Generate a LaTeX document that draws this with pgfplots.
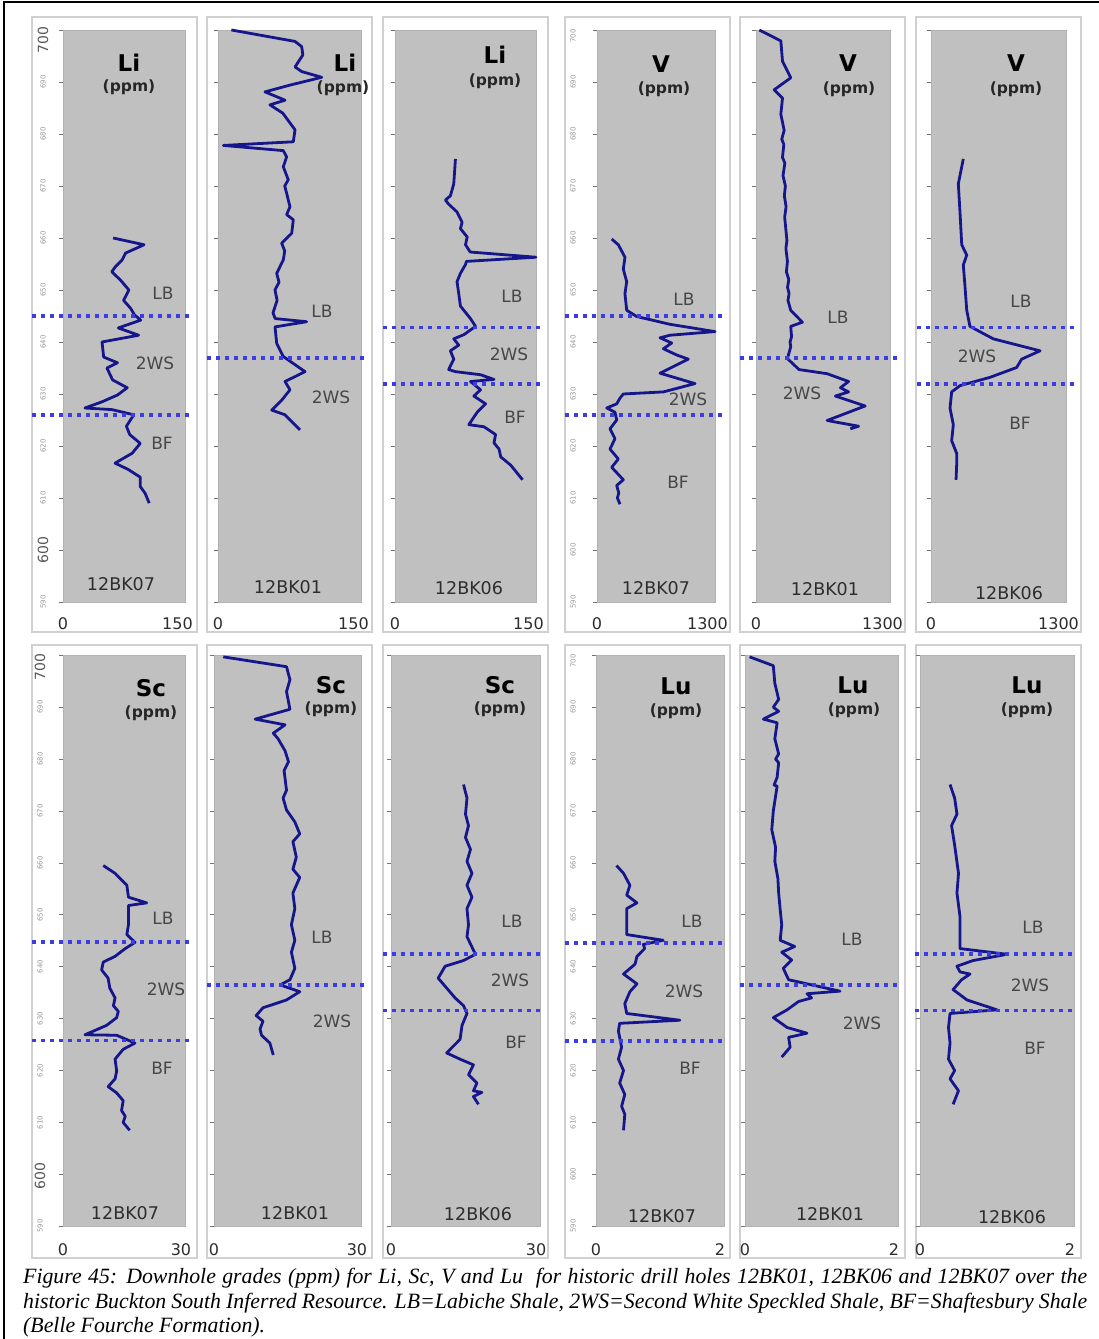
\documentclass[border=0pt]{standalone}
\usepackage{fontspec}
\setmainfont{Liberation Serif}
\setsansfont{DejaVu Sans}
\usepackage{pgfplots}
\pgfplotsset{compat=1.18}
\definecolor{bgray}{RGB}{192,192,192}
\definecolor{framec}{RGB}{208,208,208}
\definecolor{lineb}{RGB}{22,22,140}
\definecolor{dotb}{RGB}{60,60,228}
\definecolor{txt}{RGB}{45,45,45}
\newcommand{\fs}[1]{\fontsize{#1}{#1}\selectfont}
\pgfplotsset{panel/.style={
  anchor=south west, scale only axis, clip=false,
  axis background/.style={fill=bgray},
  axis line style={draw=black!30, line width=0.6pt},
  ymin=590, ymax=700, xmin=0,
  ytick={590,600,...,700}, yticklabels={},
  tick pos=left, tick align=outside, major tick length=4pt,
  ytick style={draw=black!55, line width=0.8pt},
  xtick style={draw=none},
  xticklabel style={font=\sffamily\fs{16}, text=txt, anchor=north, inner sep=0pt, yshift=-11pt},
}}
\tikzset{
 dl/.style={lineb, line width=2.8pt, line join=round},
 dotl/.style={dotb, line width=3.6pt, dash pattern=on 3.6pt off 5.4pt},
 ttl/.style={font=\sffamily\bfseries\fs{23}, text=black},
 ppm/.style={font=\sffamily\bfseries\fs{15.5}, text=black!85},
 hole/.style={font=\sffamily\fs{17.5}, text=txt},
 fm/.style={font=\sffamily\fs{17}, text=black!72},
 tiny/.style={font=\sffamily\fs{7}, text=black!40, rotate=90},
 bigl/.style={font=\sffamily\fs{14}, text=black!65, rotate=90}}
\begin{document}
\begin{tikzpicture}[x=1pt,y=1pt]
\useasboundingbox (0,0) rectangle (1099,1339);
% outer border
\draw[line width=1.6pt] (4,0) -- (4,1337) -- (1099,1337);
% panel frames
\foreach \xa/\xb in {32/197,207/372,383/548,565/730,740/905,916/1081}{
  \draw[framec, line width=1.5pt, fill=white] (\xa,{1339-17}) rectangle (\xb,{1339-632});
  \draw[framec, line width=1.5pt, fill=white] (\xa,{1339-645}) rectangle (\xb,{1339-1258});
}
% ---------------- P1 Li 12BK07
\begin{axis}[panel, at={(63pt,737pt)}, width=122pt, height=572pt, xmax=150,
  xtick={0,150}, xticklabels={0,\makebox[0pt]{\kern-15pt 150}}]
\addplot[dl] coordinates {(61.6,660) (99.6,658.7) (76.9,657.1) (72.8,655.8) (64.5,654.5) (60,653.5) (70.7,651.9) (81,650) (74.5,648) (83,646.5) (88,645.2) (95.5,644.2) (68,642.7) (93,641.3) (48,640) (50,637.1) (67,636) (54,635) (61,632.7) (79,631.2) (67,629.8) (48,628.5) (27,627.3) (60,627) (87,626) (78,623.8) (82,622.2) (95,620.5) (85,618.6) (64,616.7) (80,615.5) (95,614) (95,612.2) (101,610.9) (106,609)};
\draw[dotl] ([xshift=-31pt]axis cs:0,645) -- ([xshift=8pt]axis cs:150,645);
\draw[dotl] ([xshift=-31pt]axis cs:0,626) -- ([xshift=8pt]axis cs:150,626);
\end{axis}
% ---------------- P2 Li 12BK01
\begin{axis}[panel, at={(218pt,737pt)}, width=143pt, height=572pt, xmax=150,
  xtick={0,150}, xticklabels={0,\makebox[0pt]{\kern-15pt 150}}]
\addplot[dl] coordinates {(14,700) (80.8,697.8) (87.8,696.8) (89,695.2) (80.8,692.9) (87.8,692) (108.8,690.9) (75.5,689.4) (49.3,688.1) (70.3,686.5) (54.5,685.6) (68,684) (80.8,680.8) (79,678.5) (5.6,677.8) (68.5,676.8) (72,675.6) (68.5,673.7) (73.7,671.2) (70,670) (72,668.6) (75.5,666) (72,664.5) (79,663.5) (77.3,660.9) (66.8,659) (70,657.5) (68.5,655.8) (61.6,653.2) (64,651.5) (59.8,650) (62,648) (57.7,645.6) (60,644.5) (93,643.9) (59.8,642.9) (61.6,639.7) (68.5,637.2) (91.3,634.3) (70.3,632.4) (75.5,630.8) (66.8,628.8) (56.3,626.9) (70.3,626) (86,623.1)};
\draw[dotl] ([xshift=-11pt]axis cs:0,636.9) -- ([xshift=7pt]axis cs:150,636.9);
\end{axis}
% ---------------- P3 Li 12BK06
\begin{axis}[panel, at={(395pt,737pt)}, width=141pt, height=572pt, xmax=150,
  xtick={0,150}, xticklabels={0,\makebox[0pt]{\kern-15pt 150}}]
\addplot[dl] coordinates {(64.3,675.2) (62.5,670.4) (58.9,668.1) (53.6,667.3) (57.1,666.5) (66,665) (71.4,663) (69.6,661.8) (76.8,660.2) (75,658.7) (80,657.3) (150,656.3) (76,655.5) (75,654.9) (69.6,653.2) (66,651.6) (67.8,649.3) (69.6,646.9) (80.3,644.5) (85.7,643) (73.2,641.4) (62.5,640.6) (67.8,639.4) (58.9,638.3) (62.5,636.7) (57.1,634.7) (64.3,634.3) (91,633.7) (105.3,632.8) (80.3,632.4) (91,630.8) (83.9,629.6) (96.4,628.1) (87.5,626.5) (78.5,624.1) (94.6,623.7) (107,622.2) (105.3,620.6) (110.7,619.4) (112.5,617.9) (123.2,616.3) (135.7,613.5)};
\draw[dotl] ([xshift=-12pt]axis cs:0,642.8) -- ([xshift=7pt]axis cs:150,642.8);
\draw[dotl] ([xshift=-12pt]axis cs:0,631.9) -- ([xshift=7pt]axis cs:150,631.9);
\end{axis}
% ---------------- P4 V 12BK07
\begin{axis}[panel, at={(597pt,737pt)}, width=118pt, height=572pt, xmax=1300,
  xtick={0,1300}, xticklabels={0,\makebox[0pt]{\kern-15pt 1300}}]
\addplot[dl] coordinates {(162,659.8) (235,658.7) (308,656.3) (290,654) (327,651.6) (308,649.3) (327,646.1) (437,644.9) (804,643.4) (1300,642) (804,641.3) (694,640.8) (823,639.8) (731,638.7) (878,637.5) (1006,636.7) (694,634) (1080,632) (731,630.4) (290,630) (253,629.2) (217,628.1) (107,627.3) (198,626.5) (217,625) (143,623.3) (198,621.4) (143,619.4) (235,617.5) (162,615.9) (290,613.5) (217,612.4) (240,611) (225,610) (253,608.8)};
\draw[dotl] ([xshift=-32pt]axis cs:0,645) -- ([xshift=10pt]axis cs:1300,645);
\draw[dotl] ([xshift=-32pt]axis cs:0,626) -- ([xshift=10pt]axis cs:1300,626);
\end{axis}
% ---------------- P5 V 12BK01
\begin{axis}[panel, at={(756pt,737pt)}, width=134pt, height=572pt, xmax=1300,
  xtick={0,1300}, xticklabels={0,\makebox[0pt]{\kern-15pt 1300}}]
\addplot[dl] coordinates {(32,700) (241,697.9) (257,694) (337,690.8) (176,688.5) (257,686.9) (241,683.8) (273,680.7) (250,679) (270,678) (257,675.5) (280,674.4) (262,672) (285,670) (275,668.1) (292,666) (278,664) (289,661.8) (300,659.5) (290,658) (305,655.5) (295,653.5) (318,652) (306,650.5) (321,649.3) (310,648) (337,646.1) (450,643.8) (337,643) (345,641) (330,640) (337,639.1) (305,636.8) (417,634.7) (690,633.9) (898,632.4) (819,631.2) (898,630.4) (770,629.6) (1059,627.7) (690,624.9) (995,623.8) (915,623.3)};
\draw[dotl] ([xshift=-16pt]axis cs:0,636.9) -- ([xshift=12pt]axis cs:1300,636.9);
\end{axis}
% ---------------- P6 V 12BK06
\begin{axis}[panel, at={(931pt,737pt)}, width=135pt, height=572pt, xmax=1300,
  xtick={0,1300}, xticklabels={0,\makebox[0pt]{\kern-15pt 1300}}]
\addplot[dl] coordinates {(311,675.2) (263,670.4) (279,665) (296,658.7) (344,656.7) (311,654.8) (327,650.8) (344,646.1) (375,643) (600,640.6) (1050,638.3) (873,636.7) (825,635.1) (568,633.2) (279,631.6) (199,630.4) (183,627.3) (215,624.1) (199,621) (247,618.6) (247,616.3) (241,613.5)};
\draw[dotl] ([xshift=-14pt]axis cs:0,642.8) -- ([xshift=11pt]axis cs:1300,642.8);
\draw[dotl] ([xshift=-14pt]axis cs:0,631.9) -- ([xshift=11pt]axis cs:1300,631.9);
\end{axis}
% ================= bottom row
\pgfplotsset{xticklabel style={yshift=-2pt}}
% ---------------- P7 Sc 12BK07
\begin{axis}[panel, at={(63pt,112.7pt)}, width=122pt, height=571pt, xmax=30,
  xtick={0,30}, xticklabels={0,\makebox[0pt]{\kern-8pt 30}}]
\addplot[dl] coordinates {(9.9,659.5) (12.8,658) (15.7,655.7) (16.1,653.4) (20.6,652.3) (16.1,651.8) (16.1,648.1) (15.7,646.2) (17.7,644.7) (15.3,643.5) (12.8,642) (9.9,640.9) (9.5,639.4) (11.1,637.8) (11.5,635.9) (12.8,634) (12.4,632.5) (13.6,631.4) (13.2,630.2) (10.7,628.7) (5.4,626.9) (13.2,626.8) (17.7,625.3) (14.8,624.1) (12.8,622.2) (13.2,619.9) (12.8,618.4) (11.1,616.9) (13.2,615.7) (14.8,614.2) (14.4,612.3) (15.3,611.2) (14.8,610) (16.4,608.5)};
\draw[dotl] ([xshift=-31pt]axis cs:0,644.8) -- ([xshift=8pt]axis cs:30,644.8);
\draw[dotl] ([xshift=-31pt]axis cs:0,625.8) -- ([xshift=8pt]axis cs:30,625.8);
\end{axis}
% ---------------- P8 Sc 12BK01
\begin{axis}[panel, at={(214pt,112.7pt)}, width=147pt, height=571pt, xmax=30,
  xtick={0,30}, xticklabels={0,\makebox[0pt]{\kern-8pt 30}}]
\addplot[dl] coordinates {(1.9,699.7) (14.8,697.8) (15.5,695.3) (14.8,693) (15.5,689.6) (8.4,687.7) (14.5,686.6) (12.1,685) (13.1,683.9) (14.5,681.6) (15.2,679.5) (14.3,677.8) (14.8,674) (14.1,672.5) (14.8,670.2) (16.5,667.9) (17.5,665.6) (16.1,664.1) (16.8,661.1) (16.1,658.8) (17.5,657.2) (16.1,654.2) (16.5,651.2) (15.8,648.1) (16.5,645.1) (15.8,642.8) (16.5,639.7) (15.5,637.5) (13.5,636.5) (17.5,635.2) (14.8,633.6) (10,632.1) (8.6,630.6) (10,629.5) (9.4,628) (9.7,626.8) (11.4,625.3) (12.1,623)};
\draw[dotl] ([xshift=-7pt]axis cs:0,636.5) -- ([xshift=7pt]axis cs:30,636.5);
\end{axis}
% ---------------- P9 Sc 12BK06
\begin{axis}[panel, at={(391pt,112.7pt)}, width=149pt, height=571pt, xmax=30,
  xtick={0,30}, xticklabels={0,\makebox[0pt]{\kern-8pt 30}}]
\addplot[dl] coordinates {(14.6,675.1) (15.3,672.5) (15,669.4) (15.6,667.2) (15,664.9) (16,662.6) (15.3,660.3) (16.3,658) (15.3,655.7) (16.3,653.4) (15.3,651.2) (15.6,648.1) (15.3,645.8) (17,642.4) (14.6,641.2) (10.9,640.1) (9.5,637.8) (11.2,635.9) (12.9,634) (14.6,632.5) (15.3,631) (14.3,628.7) (13.9,626) (11.2,623.4) (13.9,622.2) (16.6,621.1) (15.6,619.2) (17.3,617.6) (16.6,616.1) (18.3,615.8) (16.6,615) (17.6,613.5)};
\draw[dotl] ([xshift=-8pt]axis cs:0,642.5) -- ([xshift=3pt]axis cs:30,642.5);
\draw[dotl] ([xshift=-8pt]axis cs:0,631.6) -- ([xshift=3pt]axis cs:30,631.6);
\end{axis}
% ---------------- P10 Lu 12BK07
\begin{axis}[panel, at={(596pt,112.7pt)}, width=128pt, height=571pt, xmax=2,
  xtick={0,2}, xticklabels={0,\makebox[0pt]{\kern-8pt 2}}]
\addplot[dl] coordinates {(0.32,659.5) (0.43,658) (0.53,655.7) (0.48,653.8) (0.64,652.3) (0.48,651.2) (0.48,648.1) (0.48,646.2) (1.05,645.1) (0.74,644.3) (0.76,643.5) (0.64,642) (0.61,640.5) (0.43,638.6) (0.64,636.7) (0.53,635.2) (0.45,632.9) (0.48,631) (1.31,629.7) (0.37,629.1) (0.35,627.6) (0.4,624.5) (0.35,622.2) (0.43,620) (0.37,617.6) (0.45,615.4) (0.4,613.1) (0.45,611.6) (0.43,608.5)};
\draw[dotl] ([xshift=-31pt]axis cs:0,644.6) -- ([xshift=1pt]axis cs:2,644.6);
\draw[dotl] ([xshift=-31pt]axis cs:0,625.7) -- ([xshift=1pt]axis cs:2,625.7);
\end{axis}
% ---------------- P11 Lu 12BK01
\begin{axis}[panel, at={(745pt,112.7pt)}, width=153pt, height=571pt, xmax=2,
  xtick={0,2}, xticklabels={0,\makebox[0pt]{\kern-8pt 2}}]
\addplot[dl] coordinates {(0.06,699.7) (0.37,698) (0.39,694.6) (0.44,691.5) (0.37,690) (0.44,689.2) (0.24,687.7) (0.42,687) (0.39,683.9) (0.44,681) (0.4,680) (0.44,679.3) (0.42,676.5) (0.38,675) (0.42,674.8) (0.37,670) (0.35,666.4) (0.4,663) (0.39,660.3) (0.43,657) (0.44,654.2) (0.46,651) (0.48,648.1) (0.46,645.1) (0.65,643.9) (0.48,642.8) (0.61,641.3) (0.5,639.7) (0.57,637.5) (1.24,635.3) (0.81,634.8) (0.87,634) (0.7,633.3) (0.55,631.7) (0.37,630.2) (0.55,628.3) (0.81,627.2) (0.57,626.4) (0.59,624.5) (0.48,622.6)};
\draw[dotl] ([xshift=-5pt]axis cs:0,636.5) -- ([xshift=2pt]axis cs:2,636.5);
\end{axis}
% ---------------- P12 Lu 12BK06
\begin{axis}[panel, at={(920pt,112.7pt)}, width=154pt, height=571pt, xmax=2,
  xtick={0,2}, xticklabels={0,\makebox[0pt]{\kern-8pt 2}}]
\addplot[dl] coordinates {(0.39,675.1) (0.45,672.5) (0.48,669.4) (0.41,667.2) (0.45,663.4) (0.5,658) (0.48,654.2) (0.52,649.6) (0.52,645.1) (0.52,643.5) (1.13,642.4) (0.69,641.2) (0.48,640.1) (0.52,639) (0.65,638.6) (0.54,637.5) (0.43,635.6) (0.61,633.6) (1,631.7) (0.39,631) (0.37,628.3) (0.39,625.3) (0.37,622.2) (0.45,620) (0.39,618.4) (0.5,616.1) (0.43,613.5)};
\draw[dotl] ([xshift=-5pt]axis cs:0,642.5) -- ([xshift=1pt]axis cs:2,642.5);
\draw[dotl] ([xshift=-5pt]axis cs:0,631.6) -- ([xshift=1pt]axis cs:2,631.6);
\end{axis}
% ---------------- y tick labels
\foreach \d in {590,610,620,630,640,650,660,670,680,690}
  \node[tiny] at (43,{1339-(30+(700-\d)*5.2)}) {\d};
\node[bigl] at (43,{1339-40}) {700};
\node[bigl] at (43,{1339-550}) {600};
\foreach \d in {590,600,610,620,630,640,650,660,670,680,690}
  \node[tiny] at (573,{1339-(30+(700-\d)*5.2)}) {\d};
\node[tiny] at (573,{1339-36}) {700};
\foreach \d in {590,610,620,630,640,650,660,670,680,690}
  \node[tiny] at (40,{1339-(655.3+(700-\d)*5.19)}) {\d};
\node[bigl] at (40,{1339-667}) {700};
\node[bigl] at (40,{1339-1176}) {600};
\foreach \d in {590,600,610,620,630,640,650,660,670,680,690}
  \node[tiny] at (573,{1339-(655.3+(700-\d)*5.19)}) {\d};
\node[tiny] at (573,{1339-661}) {700};
% ---------------- titles
\node[ttl] at (129,{1339-63}) {Li};   \node[ppm] at (129,{1339-87}) {(ppm)};
\node[ttl] at (345,{1339-63}) {Li};   \node[ppm] at (343,{1339-88}) {(ppm)};
\node[ttl] at (495,{1339-55}) {Li};   \node[ppm] at (495,{1339-81}) {(ppm)};
\node[ttl] at (661,{1339-64}) {V};    \node[ppm] at (664,{1339-89}) {(ppm)};
\node[ttl] at (848,{1339-63}) {V};    \node[ppm] at (849,{1339-89}) {(ppm)};
\node[ttl] at (1016,{1339-63}) {V};   \node[ppm] at (1016,{1339-89}) {(ppm)};
\node[ttl] at (151,{1339-688}) {Sc};  \node[ppm] at (151,{1339-713}) {(ppm)};
\node[ttl] at (331,{1339-685}) {Sc};  \node[ppm] at (331,{1339-709}) {(ppm)};
\node[ttl] at (500,{1339-685}) {Sc};  \node[ppm] at (500,{1339-709}) {(ppm)};
\node[ttl] at (676,{1339-686}) {Lu};  \node[ppm] at (676,{1339-711}) {(ppm)};
\node[ttl] at (853,{1339-685}) {Lu};  \node[ppm] at (854,{1339-710}) {(ppm)};
\node[ttl] at (1027,{1339-685}) {Lu}; \node[ppm] at (1027,{1339-710}) {(ppm)};
% ---------------- hole ids
\node[hole] at (121,{1339-584}) {12BK07};
\node[hole] at (288,{1339-587}) {12BK01};
\node[hole] at (469,{1339-588}) {12BK06};
\node[hole] at (656,{1339-588}) {12BK07};
\node[hole] at (825,{1339-589}) {12BK01};
\node[hole] at (1009,{1339-593}) {12BK06};
\node[hole] at (125,{1339-1213}) {12BK07};
\node[hole] at (295,{1339-1213}) {12BK01};
\node[hole] at (478,{1339-1214}) {12BK06};
\node[hole] at (662,{1339-1216}) {12BK07};
\node[hole] at (830,{1339-1214}) {12BK01};
\node[hole] at (1012,{1339-1217}) {12BK06};
% ---------------- formation labels
\node[fm] at (163,{1339-293}) {LB};  \node[fm] at (155,{1339-363}) {2WS}; \node[fm] at (162,{1339-443}) {BF};
\node[fm] at (322,{1339-311}) {LB};  \node[fm] at (331,{1339-397}) {2WS};
\node[fm] at (512,{1339-296}) {LB};  \node[fm] at (509,{1339-354}) {2WS}; \node[fm] at (515,{1339-417}) {BF};
\node[fm] at (684,{1339-299}) {LB};  \node[fm] at (688,{1339-399}) {2WS}; \node[fm] at (678,{1339-482}) {BF};
\node[fm] at (838,{1339-317}) {LB};  \node[fm] at (802,{1339-393}) {2WS};
\node[fm] at (1021,{1339-301}) {LB}; \node[fm] at (977,{1339-356}) {2WS}; \node[fm] at (1020,{1339-423}) {BF};
\node[fm] at (163,{1339-918}) {LB};  \node[fm] at (166,{1339-989}) {2WS}; \node[fm] at (162,{1339-1068}) {BF};
\node[fm] at (322,{1339-937}) {LB};  \node[fm] at (332,{1339-1021}) {2WS};
\node[fm] at (512,{1339-921}) {LB};  \node[fm] at (510,{1339-980}) {2WS}; \node[fm] at (516,{1339-1042}) {BF};
\node[fm] at (692,{1339-921}) {LB};  \node[fm] at (684,{1339-991}) {2WS}; \node[fm] at (690,{1339-1068}) {BF};
\node[fm] at (852,{1339-939}) {LB};  \node[fm] at (862,{1339-1023}) {2WS};
\node[fm] at (1033,{1339-927}) {LB}; \node[fm] at (1030,{1339-985}) {2WS}; \node[fm] at (1035,{1339-1048}) {BF};
% ---------------- caption
\node[anchor=base west, inner sep=0pt] at (23,{1339-1284}) {\parbox[t]{1064pt}{\fontsize{21.8}{24.3}\selectfont\itshape Figure 45: Downhole grades (ppm) for Li, Sc, V and Lu\ \ for historic drill holes 12BK01, 12BK06 and 12BK07 over the\linebreak historic Buckton South Inferred Resource. LB=Labiche Shale, 2WS=Second White Speckled Shale, BF=Shaftesbury Shale\linebreak (Belle Fourche Formation).}};
\end{tikzpicture}
\end{document}
